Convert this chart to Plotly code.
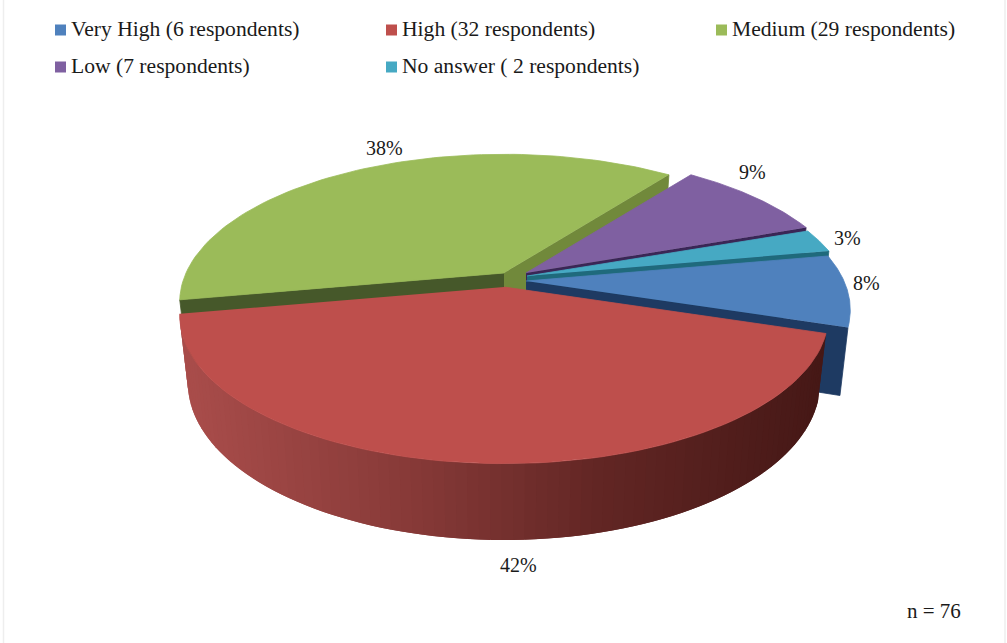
import numpy as np
import plotly.graph_objects as go

# ---- data ----
categories = ["Very High", "High", "Medium", "Low", "No answer"]
respondents = [6, 32, 29, 7, 2]
legend_labels = ["Very High (6 respondents)", "High (32 respondents)", "Medium (29 respondents)",
                 "Low (7 respondents)", "No answer ( 2 respondents)"]
sample_note = "n = 76"

# ---- styles ----
top_colors = ["#4F81BD", "#BE4F4C", "#9BBB59", "#7F60A1", "#46A9C3"]
cut_colors = ["#1E3A62", "#5A1F1D", "#46582A", "#3A2656", "#1F6A7C"]
green_far_cut = "#71893B"
wall_stops = [(0.0, (168, 76, 74)), (0.35, (135, 58, 56)), (0.65, (98, 38, 36)), (1.0, (70, 24, 22))]

# ---- projection of the tilted 3D pie, in pixels of the picture ----
FIRST_ANGLE = 79.5
A, B, K = 318.0, 142.0, 0.196
SHRINK, DEPTH = 0.975, 65.0
slice_apex = [(526, 281), (504, 287), (504, 273), (526, 273), (527, 276)]
label_pos = [(866, 283), (518, 565), (384, 148), (752, 172), (847, 238)]
legend_pos = [(60.5, 30), (391.5, 30), (721.5, 30), (60.5, 67), (391.5, 67)]
FONT = "Liberation Serif"


def project(theta, apex, bottom=False, r=1.0):
    t = np.radians(theta)
    u, v = r * np.sin(t), r * np.cos(t)
    w = 1 + K * v
    x, y = A * u / w, -B * v / w
    if bottom:
        x, y = x * SHRINK, y * SHRINK + DEPTH / w
    return x + apex[0], y + apex[1]


def poly(fig, xs, ys, color, width=0.8):
    fig.add_trace(go.Scatter(x=list(xs), y=list(ys), mode="lines", fill="toself", fillcolor=color,
                             line=dict(color=color, width=width), hoverinfo="skip", showlegend=False))


def arc(a0, a1, apex, bottom=False, n=80):
    th = np.linspace(a0, a1, n)
    return project(th, apex, bottom)


def cut_face(fig, theta, apex, color):
    x0, y0 = project(theta, apex)
    x1, y1 = project(theta, apex, True)
    cx1, cy1 = project(0, apex, True, r=0.0)
    poly(fig, [apex[0], x0, x1, cx1], [apex[1], y0, y1, cy1], color)


def wall_color(t):
    for (t0, c0), (t1, c1) in zip(wall_stops, wall_stops[1:]):
        if t <= t1:
            f = (t - t0) / (t1 - t0)
            c = [round(a + (b - a) * f) for a, b in zip(c0, c1)]
            return "rgb(%d,%d,%d)" % tuple(c)
    return "rgb(%d,%d,%d)" % wall_stops[-1][1]


total = sum(respondents)
sweeps = [360.0 * v / total for v in respondents]
starts = [FIRST_ANGLE + sum(sweeps[:i]) for i in range(len(sweeps))]
ends = [s + w for s, w in zip(starts, sweeps)]

fig = go.Figure()

# drawn back to front: Medium, Low, No answer, Very High, High
green = 2
cut_face(fig, ends[green], slice_apex[green], green_far_cut)
cut_face(fig, starts[green], slice_apex[green], cut_colors[green])
xa, ya = arc(starts[green], ends[green], slice_apex[green])
poly(fig, [slice_apex[green][0], *xa], [slice_apex[green][1], *ya], top_colors[green])

for i in (3, 4, 0):
    cut_face(fig, ends[i], slice_apex[i], cut_colors[i])
    xa, ya = arc(starts[i], ends[i], slice_apex[i])
    poly(fig, [slice_apex[i][0], *xa], [slice_apex[i][1], *ya], top_colors[i])

# High: outer wall with a light-to-dark shade, then its top.
# Strips run from the right end to the left so that each overlaps the seam of the one before.
red = 1
edges = np.linspace(ends[red], starts[red], 91)
step = edges[0] - edges[1]
for a0, a1 in zip(edges[:-1], edges[1:]):
    far = max(a1 - step, starts[red])
    xt, yt = arc(a0, far, slice_apex[red], n=4)
    xb, yb = arc(far, a0, slice_apex[red], True, n=4)
    frac = (project((a0 + a1) / 2, slice_apex[red])[0] - 190) / (820 - 190)
    poly(fig, [*xt, *xb], [*yt, *yb], wall_color(float(np.clip(frac, 0, 1))), width=0)
xa, ya = arc(starts[red], ends[red], slice_apex[red])
poly(fig, [slice_apex[red][0], *xa], [slice_apex[red][1], *ya], top_colors[red])

# legend swatches
for (lx, ly), c, name in zip(legend_pos, top_colors, categories):
    fig.add_trace(go.Scatter(x=[lx], y=[ly], mode="markers", name=name, showlegend=False,
                             marker=dict(symbol="square", size=11, color=c, line=dict(width=0))))

annotations = []
for (lx, ly), text in zip(legend_pos, legend_labels):
    annotations.append(dict(x=lx + 8.5, y=ly - 1.2, text=text, xanchor="left", yanchor="middle", showarrow=False,
                            xref="x", yref="y", font=dict(family=FONT, size=21.6, color="#1a1a1a")))
for (lx, ly), v in zip(label_pos, respondents):
    annotations.append(dict(x=lx, y=ly, text="%d%%" % round(100 * v / total), showarrow=False,
                            xref="x", yref="y", font=dict(family=FONT, size=20, color="#1a1a1a")))
annotations.append(dict(x=934, y=611, text=sample_note, showarrow=False, xref="x", yref="y",
                        font=dict(family=FONT, size=21, color="#1a1a1a")))

fig.update_layout(
    width=1007, height=643, autosize=False, margin=dict(l=0, r=0, t=0, b=0),
    paper_bgcolor="white", plot_bgcolor="white", showlegend=False, annotations=annotations,
    xaxis=dict(range=[0, 1007], visible=False, fixedrange=True),
    yaxis=dict(range=[643, 0], visible=False, fixedrange=True),
    shapes=[dict(type="rect", xref="x", yref="y", x0=3.5, x1=1005, y0=-2, y1=645,
                 line=dict(color="#EEEEEE", width=1.5), layer="below")],
)
fig.write_html("out.html", config={"displayModeBar": False},
               post_script="document.body.style.margin='0';")
